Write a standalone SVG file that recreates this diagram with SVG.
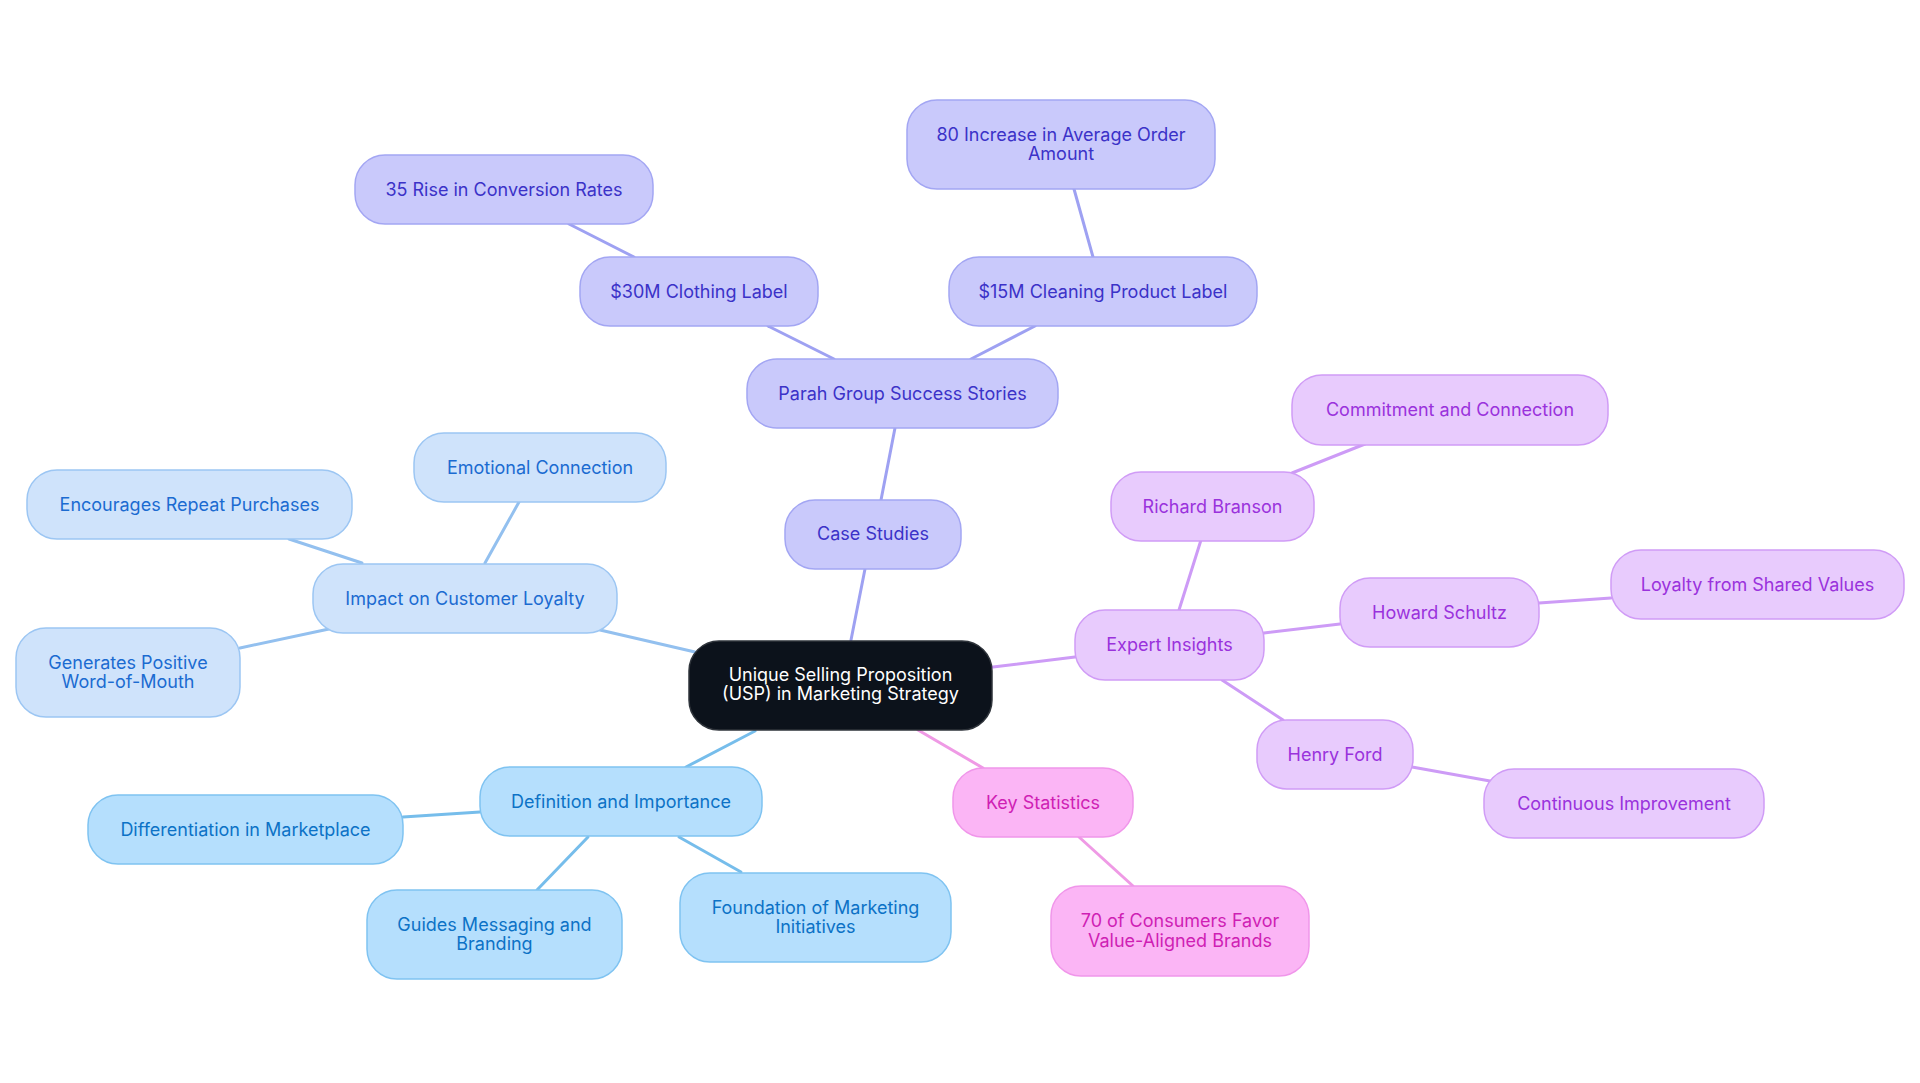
<svg xmlns="http://www.w3.org/2000/svg" width="1920" height="1083" viewBox="0 0 1920 1083">
<style>
text{font-family:Inter,"Noto Sans","Liberation Sans",sans-serif;font-size:18px;text-anchor:middle}
.n rect{stroke-width:1.5}
.c rect{fill:#0c121b;stroke:#2f343b}
.c text{fill:#ffffff}
.ind rect{fill:#c9c9fb;stroke:#a3a6f3}
.ind text{fill:#3b32c8}
.lb rect{fill:#cfe3fb;stroke:#9cc6f3}
.lb text{fill:#1b6bd1}
.sky rect{fill:#b5dffd;stroke:#7fc3f1}
.sky text{fill:#0c72c6}
.pk rect{fill:#fbb5f5;stroke:#f096ea}
.pk text{fill:#cf1fb4}
.pu rect{fill:#e8cbfd;stroke:#d09cf6}
.pu text{fill:#9a32dc}
#edges line{stroke-width:3;stroke-linecap:round}
.e-ind{stroke:#9ea1f2}
.e-lb{stroke:#93c0ef}
.e-sky{stroke:#76bdeb}
.e-pk{stroke:#ef9ae5}
.e-pu{stroke:#cd9bf6}
</style>
<rect width="1920" height="1083" fill="#ffffff"/>
<g id="edges">
<line class="e-ind" x1="851" y1="640" x2="865" y2="569"/>
<line class="e-ind" x1="881" y1="500" x2="895" y2="428"/>
<line class="e-ind" x1="834" y1="359" x2="768" y2="326"/>
<line class="e-ind" x1="971" y1="359" x2="1035" y2="326"/>
<line class="e-ind" x1="634" y1="257" x2="569" y2="224"/>
<line class="e-ind" x1="1093" y1="257" x2="1074" y2="189"/>
<line class="e-lb" x1="695" y1="652" x2="600" y2="630"/>
<line class="e-lb" x1="485" y1="563" x2="519" y2="502"/>
<line class="e-lb" x1="362" y1="563" x2="289" y2="539"/>
<line class="e-lb" x1="329" y1="629" x2="240" y2="648"/>
<line class="e-sky" x1="755" y1="731" x2="686" y2="767"/>
<line class="e-sky" x1="480" y1="812" x2="403" y2="817"/>
<line class="e-sky" x1="588" y1="837" x2="537" y2="890"/>
<line class="e-sky" x1="679" y1="837" x2="741" y2="872"/>
<line class="e-pk" x1="918" y1="730" x2="983" y2="768"/>
<line class="e-pk" x1="1079" y1="837" x2="1133" y2="886"/>
<line class="e-pu" x1="993" y1="667" x2="1075" y2="657"/>
<line class="e-pu" x1="1179" y1="610" x2="1201" y2="540"/>
<line class="e-pu" x1="1264" y1="633" x2="1340" y2="624"/>
<line class="e-pu" x1="1222" y1="680" x2="1283" y2="720"/>
<line class="e-pu" x1="1292" y1="473" x2="1365" y2="444"/>
<line class="e-pu" x1="1539" y1="603" x2="1611" y2="598"/>
<line class="e-pu" x1="1412" y1="767" x2="1490" y2="781"/>
</g>
<g id="n-center" class="n c"><rect x="689" y="641" width="303" height="89" rx="30"/><text x="840.5" y="681">Unique Selling Proposition</text><text x="840.5" y="700">(USP) in Marketing Strategy</text></g>
<g id="n-case" class="n ind"><rect x="785" y="500" width="176" height="69" rx="30"/><text x="873" y="540">Case Studies</text></g>
<g id="n-parah" class="n ind"><rect x="747" y="359" width="311" height="69" rx="30"/><text x="902.5" y="399.5">Parah Group Success Stories</text></g>
<g id="n-30m" class="n ind"><rect x="580" y="257" width="238" height="69" rx="30"/><text x="699" y="297.5">$30M Clothing Label</text></g>
<g id="n-35" class="n ind"><rect x="355" y="155" width="298" height="69" rx="30"/><text x="504" y="195.5">35 Rise in Conversion Rates</text></g>
<g id="n-15m" class="n ind"><rect x="949" y="257" width="308" height="69" rx="30"/><text x="1103" y="297.5">$15M Cleaning Product Label</text></g>
<g id="n-80" class="n ind"><rect x="907" y="100" width="308" height="89" rx="30"/><text x="1061" y="140.5">80 Increase in Average Order</text><text x="1061" y="160">Amount</text></g>
<g id="n-impact" class="n lb"><rect x="313" y="564" width="304" height="69" rx="30"/><text x="465" y="604.5">Impact on Customer Loyalty</text></g>
<g id="n-emotional" class="n lb"><rect x="414" y="433" width="252" height="69" rx="30"/><text x="540" y="473.5">Emotional Connection</text></g>
<g id="n-encourages" class="n lb"><rect x="27" y="470" width="325" height="69" rx="30"/><text x="189.5" y="510.5">Encourages Repeat Purchases</text></g>
<g id="n-generates" class="n lb"><rect x="16" y="628" width="224" height="89" rx="30"/><text x="128" y="668.5">Generates Positive</text><text x="128" y="688">Word-of-Mouth</text></g>
<g id="n-definition" class="n sky"><rect x="480" y="767" width="282" height="69" rx="30"/><text x="621" y="807.5">Definition and Importance</text></g>
<g id="n-differentiation" class="n sky"><rect x="88" y="795" width="315" height="69" rx="30"/><text x="245.5" y="835.5">Differentiation in Marketplace</text></g>
<g id="n-guides" class="n sky"><rect x="367" y="890" width="255" height="89" rx="30"/><text x="494.5" y="930.5">Guides Messaging and</text><text x="494.5" y="950">Branding</text></g>
<g id="n-foundation" class="n sky"><rect x="680" y="873" width="271" height="89" rx="30"/><text x="815.5" y="913.5">Foundation of Marketing</text><text x="815.5" y="933">Initiatives</text></g>
<g id="n-key" class="n pk"><rect x="953" y="768" width="180" height="69" rx="30"/><text x="1043" y="808.5">Key Statistics</text></g>
<g id="n-70" class="n pk"><rect x="1051" y="886" width="258" height="90" rx="30"/><text x="1180" y="927">70 of Consumers Favor</text><text x="1180" y="946.5">Value-Aligned Brands</text></g>
<g id="n-expert" class="n pu"><rect x="1075" y="610" width="189" height="70" rx="30"/><text x="1169.5" y="651">Expert Insights</text></g>
<g id="n-richard" class="n pu"><rect x="1111" y="472" width="203" height="69" rx="30"/><text x="1212.5" y="512.5">Richard Branson</text></g>
<g id="n-commitment" class="n pu"><rect x="1292" y="375" width="316" height="70" rx="30"/><text x="1450" y="416">Commitment and Connection</text></g>
<g id="n-howard" class="n pu"><rect x="1340" y="578" width="199" height="69" rx="30"/><text x="1439.5" y="618.5">Howard Schultz</text></g>
<g id="n-loyalty" class="n pu"><rect x="1611" y="550" width="293" height="69" rx="30"/><text x="1757.5" y="590.5">Loyalty from Shared Values</text></g>
<g id="n-henry" class="n pu"><rect x="1257" y="720" width="156" height="69" rx="30"/><text x="1335" y="760.5">Henry Ford</text></g>
<g id="n-continuous" class="n pu"><rect x="1484" y="769" width="280" height="69" rx="30"/><text x="1624" y="809.5">Continuous Improvement</text></g>
</svg>
